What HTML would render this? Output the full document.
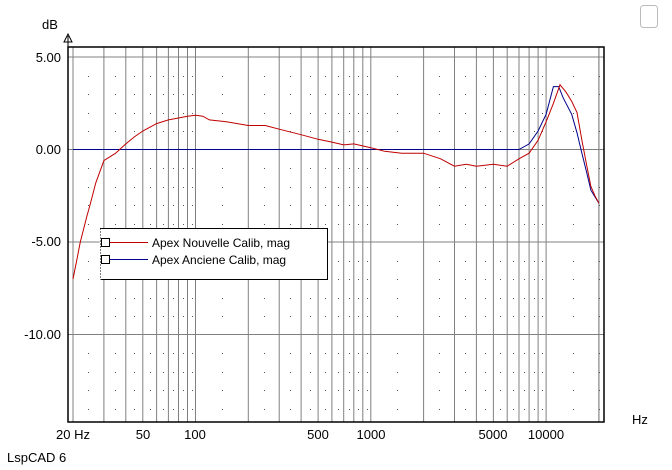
<!DOCTYPE html>
<html><head><meta charset="utf-8"><style>
body{margin:0;background:#fff;width:672px;height:470px;overflow:hidden;font-family:"Liberation Sans",sans-serif;}
svg{position:absolute;left:0;top:0}
</style></head><body>
<svg id="s" width="672" height="470" xmlns="http://www.w3.org/2000/svg" font-family="Liberation Sans, sans-serif">
<rect x="640.5" y="5.5" width="17" height="22" rx="3" fill="none" stroke="#bbb"/>
<g id="grid"></g>
<rect x="68" y="47" width="536" height="375" fill="none" stroke="#000" stroke-width="1.5"/>
<path d="M68 47 V36 M64 42 L68 34 L72 42 Z" stroke="#000" fill="#fff" stroke-width="1"/>
<g id="curves"></g>
<g font-size="13" fill="#000" text-anchor="end">
<text x="61" y="62">5.00</text>
<text x="61" y="154">0.00</text>
<text x="61" y="246">-5.00</text>
<text x="61" y="339">-10.00</text>
</g>
<text x="42" y="29" font-size="13">dB</text>
<text x="632" y="424" font-size="13">Hz</text>
<g font-size="13" text-anchor="middle">
<text x="73" y="439">20 Hz</text>
<text x="143" y="439">50</text>
<text x="195" y="439">100</text>
<text x="318" y="439">500</text>
<text x="371" y="439">1000</text>
<text x="493" y="439">5000</text>
<text x="546" y="439">10000</text>
</g>
<text x="7" y="462" font-size="13">LspCAD 6</text>
<g>
<rect x="100.5" y="228.5" width="227" height="51" fill="#fff" stroke="#000"/>
<line x1="100.5" y1="228.5" x2="100.5" y2="279.5" stroke="#fff" stroke-width="1.5"/>
<line x1="100.5" y1="228.5" x2="100.5" y2="279.5" stroke="#000" stroke-dasharray="1 2"/>
<line x1="108" y1="242.5" x2="148" y2="242.5" stroke="#c00000"/>
<line x1="108" y1="259.5" x2="148" y2="259.5" stroke="#00008b"/>
<rect x="101.5" y="238.5" width="8" height="8" fill="#fff" stroke="#000"/>
<rect x="101.5" y="255.5" width="8" height="8" fill="#fff" stroke="#000"/>
<text x="152" y="247" font-size="12">Apex Nouvelle Calib, mag</text>
<text x="152" y="264" font-size="12">Apex Anciene Calib, mag</text>
</g>
</svg>
<script>
const X=f=>73+175.3*Math.log10(f/20), Y=d=>149.5-18.5*d;
let g='';
const fs=[];for(let d=10;d<=10000;d*=10)for(let m=1;m<10;m++){const f=d*m;if(f>=20&&f<=20000)fs.push(f);}fs.push(20000);
fs.forEach(f=>{const x=X(f).toFixed(1);g+=`<line x1="${x}" y1="47" x2="${x}" y2="422" stroke="#808080"/>`;});
[5,0,-5,-10].forEach(d=>{g+=`<line x1="68" y1="${Y(d)}" x2="604" y2="${Y(d)}" stroke="#808080"/>`;});
for(let i=0;i<fs.length-1;i++){const x=(X(fs[i])+X(fs[i+1]))/2;for(let d=5;d>=-14;d--){if(d%5===0)continue;g+=`<rect x="${x.toFixed(0)}" y="${Y(d).toFixed(0)}" width="1" height="1" fill="#555"/>`;}}
document.getElementById('grid').innerHTML=g;
const red=[[20,-7],[21,-6],[22,-5],[24,-3.6],[25,-3],[27,-1.8],[30,-0.6],[35,-0.2],[40,0.3],[45,0.7],[50,1.0],[60,1.4],[70,1.6],[80,1.7],[90,1.8],[100,1.85],[110,1.8],[120,1.6],[150,1.5],[200,1.3],[250,1.3],[300,1.1],[400,0.8],[500,0.55],[600,0.4],[700,0.25],[800,0.3],[1000,0.1],[1200,-0.1],[1500,-0.2],[2000,-0.2],[2500,-0.5],[3000,-0.9],[3500,-0.8],[4000,-0.9],[5000,-0.8],[6000,-0.9],[7000,-0.5],[8000,-0.2],[9000,0.5],[10000,1.5],[11000,2.5],[12000,3.5],[13000,3.1],[14000,2.6],[15000,2.0],[16000,0.5],[17000,-0.8],[18000,-2.0],[19000,-2.5],[20000,-2.9]];
const blue=[[20,0],[7000,0],[8000,0.3],[9000,1.0],[10000,1.9],[11000,3.4],[11800,3.4],[12500,2.8],[14000,1.9],[15000,0.9],[16000,-0.2],[17000,-1.2],[18000,-2.2],[20000,-2.9]];
const p=a=>a.map((q,i)=>(i?'L':'M')+X(q[0]).toFixed(1)+' '+Y(q[1]).toFixed(1)).join(' ');
document.getElementById('curves').innerHTML=`<path d="${p(blue)}" fill="none" stroke="#00008b"/><path d="${p(red)}" fill="none" stroke="#c00000"/>`;
</script>
</body></html>
